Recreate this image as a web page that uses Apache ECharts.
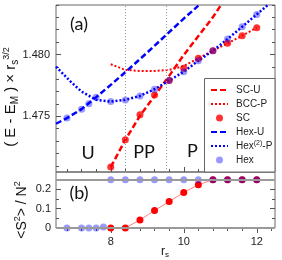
<!DOCTYPE html>
<html><head><meta charset="utf-8">
<script src="https://cdn.jsdelivr.net/npm/echarts@6/dist/echarts.min.js"></script>
<style>html,body{margin:0;padding:0;background:#fff}#c{width:282px;height:260px}</style>
</head><body><div id="c"></div>
<script>
// ---- data ----
const rSC   = [8.0, 8.4, 8.8, 9.2, 9.6, 10.0, 10.4, 10.8, 11.2, 11.6, 12.0];
const eSC   = [1.47090, 1.47310, 1.47512, 1.47673, 1.47790, 1.47889, 1.47969, 1.48031, 1.48090, 1.48152, 1.48216];
const rHex  = [6.8, 7.2, 7.4, 7.6, 8.0, 8.4, 8.8, 9.2, 9.6, 10.0, 10.4, 10.8, 11.2, 11.6, 12.0];
const eHex  = [1.47486, 1.47558, 1.47601, 1.47655, 1.47619, 1.47633, 1.47665, 1.47719, 1.47789, 1.47861, 1.47950, 1.48031, 1.48125, 1.48224, 1.48324];
const rSCU  = [8.0, 8.4, 8.8, 9.2, 9.6, 10.0, 10.4, 10.8, 11.0];
const eSCU  = [1.47090, 1.47310, 1.47504, 1.47665, 1.47827, 1.47996, 1.48149, 1.48302, 1.48391];
const rBCCP = [8.0, 8.4, 8.8, 9.2, 9.6, 10.0, 10.4, 10.8, 11.2, 11.6, 12.0];
const eBCCP = [1.47921, 1.47875, 1.47867, 1.47867, 1.47875, 1.47907, 1.47969, 1.48031, 1.48090, 1.48152, 1.48216];
const rHexU = [6.5, 6.8, 7.2, 7.6, 8.0, 8.5, 9.0, 9.5, 10.0, 10.4];
const eHexU = [1.47440, 1.47486, 1.47558, 1.47655, 1.47754, 1.47883, 1.48016, 1.48153, 1.48290, 1.48395];
const rHexP = [6.5, 6.9, 7.2, 7.6, 8.0, 8.4, 8.8, 9.2, 9.6, 10.0, 10.4, 10.8, 11.2, 11.6, 12.0, 12.3];
const eHexP = [1.47902, 1.47781, 1.47700, 1.47633, 1.47619, 1.47633, 1.47665, 1.47719, 1.47789, 1.47861, 1.47950, 1.48031, 1.48125, 1.48224, 1.48324, 1.48399];
// bottom panel <S^2>/N^2
const rSCs  = [8.0, 8.4, 8.8, 9.2, 9.6, 10.0, 10.4, 10.8, 11.2, 11.6, 12.0];
const sSC   = [0, 0, 0.042, 0.090, 0.137, 0.184, 0.224, 0.25, 0.25, 0.25, 0.25];
const rHexs = [6.8, 7.2, 7.4, 7.6, 7.8, 8.0, 8.4, 8.8, 9.2, 9.6, 10.0, 10.4, 10.8, 11.2, 11.6, 12.0];
const sHex  = [0, 0, 0, 0, 0.005, 0.25, 0.25, 0.25, 0.25, 0.25, 0.25, 0.25, 0.25, 0.25, 0.25, 0.25];
const phaseBounds = [8.4, 9.53];
const refLinesS = [0, 0.25];
const xLabels = [8, 10, 12];
const yLabelsE = [1.475, 1.480];
const yLabelsS = [0, 0.1, 0.2];
const legendNames = ['SC-U', 'BCC-P', 'SC', 'Hex-U', 'Hex(2)-P', 'Hex'];
const lineLegend = ['SC-U', 'BCC-P', 'Hex-U', 'Hex(2)-P'];

const zip = (a, b) => a.map((v, i) => [v, b[i]]);
function range(a, b, s) { const o = []; for (let k = 0; a + k * s <= b + 1e-9; k++) o.push(+(a + k * s).toFixed(5)); return o; }

const xTicks = range(6.8, 12.4, 0.4);
const yTicksE = range(1.471, 1.484, 0.001);
const yTicksS = range(0, 0.25, 0.05);

const FONT = 'Liberation Sans';
function ax(grid, pos, min, max, ticks, len, inside, labels, fmt, margin) {
  return {
    type: 'value', gridIndex: grid, position: pos, min: min, max: max,
    axisLine: { show: false, onZero: false }, splitLine: { show: false },
    axisTick: { show: true, inside: inside, length: len, customValues: ticks, lineStyle: { color: '#555', width: 1 } },
    axisLabel: labels ? { show: true, customValues: labels, formatter: fmt, margin: margin, fontSize: 11, color: '#222', fontFamily: FONT } : { show: false }
  };
}
const XMIN = 6.5, XMAX = 12.5, EMIN = 1.4705, EMAX = 1.484, SMIN = 0, SMAX = 0.29;

const chart = echarts.init(document.getElementById('c'), null, { renderer: 'canvas' });
const blueT = 'rgba(0,0,255,0.5)';
chart.setOption({
  animation: false,
  textStyle: { fontFamily: FONT },
  grid: [
    { left: 56, right: 7, top: 5, height: 167, show: true, borderColor: '#666', borderWidth: 1, backgroundColor: 'transparent' },
    { left: 56, right: 7, top: 172, height: 56, show: true, borderColor: '#666', borderWidth: 1, backgroundColor: 'transparent' }
  ],
  xAxis: [
    ax(0, 'bottom', XMIN, XMAX, xLabels, 5, true),
    ax(0, 'bottom', XMIN, XMAX, xTicks, 3, true),
    ax(1, 'bottom', XMIN, XMAX, xLabels, 5, false, xLabels, v => String(v), 8),
    ax(1, 'bottom', XMIN, XMAX, xTicks, 3, false)
  ],
  yAxis: [
    ax(0, 'left', EMIN, EMAX, yLabelsE, 5, true, yLabelsE, v => v.toFixed(3), 6),
    ax(0, 'left', EMIN, EMAX, yTicksE, 3, true),
    ax(0, 'right', EMIN, EMAX, yLabelsE, 5, true),
    ax(0, 'right', EMIN, EMAX, yTicksE, 3, true),
    ax(1, 'left', SMIN, SMAX, yLabelsS, 5, true, yLabelsS, v => (v === 0 ? '0' : String(v)), 5),
    ax(1, 'left', SMIN, SMAX, yTicksS, 3, true),
    ax(1, 'right', SMIN, SMAX, yLabelsS, 5, true),
    ax(1, 'right', SMIN, SMAX, yTicksS, 3, true)
  ],
  legend: {
    orient: 'vertical', left: 204, top: 78, padding: [6, 4, 6, 6],
    itemWidth: 17, itemHeight: 7, itemGap: 2, selectedMode: false, z: 6,
    data: legendNames.map(n => lineLegend.includes(n)
      ? { name: n, itemStyle: { opacity: 0, color: 'rgba(0,0,0,0)', borderWidth: 0 } }
      : { name: n }),
    formatter: n => (n === 'Hex(2)-P' ? 'Hex{sup|(2)}-P' : n),
    textStyle: { fontSize: 10, color: '#222', fontFamily: FONT, lineHeight: 12, padding: [0, 0, 0, 3],
      rich: { sup: { fontSize: 7, lineHeight: 12, verticalAlign: 'top', fontFamily: FONT, color: '#222' } } }
  },
  graphic: [
    { type: 'rect', z: 5, shape: { x: 204.5, y: 78.5, width: 70.5, height: 93.5 }, style: { fill: '#fff', stroke: '#666', lineWidth: 1 } },
    { type: 'text', z: 5, x: 79, y: 24, style: { text: '(a)', font: '18px Lato', fill: '#111', align: 'center', verticalAlign: 'middle' } },
    { type: 'text', z: 5, x: 79, y: 193, style: { text: '(b)', font: '18px Lato', fill: '#111', align: 'center', verticalAlign: 'middle' } },
    { type: 'text', z: 5, x: 88, y: 153, style: { text: 'U', font: '18px Lato', fill: '#111', align: 'center', verticalAlign: 'middle' } },
    { type: 'text', z: 5, x: 144, y: 152, style: { text: 'PP', font: '18px Lato', fill: '#111', align: 'center', verticalAlign: 'middle' } },
    { type: 'text', z: 5, x: 192.5, y: 151, style: { text: 'P', font: '18px Lato', fill: '#111', align: 'center', verticalAlign: 'middle' } },
    { type: 'text', z: 5, x: 11, y: 97, rotation: Math.PI / 2,
      style: { text: '( E - E{sub|M} ) × r{sub|s}{sup|3/2}', font: '15px Liberation Sans', fill: '#111', align: 'center', verticalAlign: 'middle', lineHeight: 18,
        rich: { sub: { fontSize: 10, lineHeight: 10, verticalAlign: 'bottom', fontFamily: FONT }, sup: { fontSize: 9, lineHeight: 9, verticalAlign: 'top', fontFamily: FONT } } } },
    { type: 'text', z: 5, x: 22, y: 210, rotation: Math.PI / 2,
      style: { text: '<S{sup|2}> / N{sup|2}', font: '14px Liberation Sans', fill: '#111', align: 'center', verticalAlign: 'middle', lineHeight: 17,
        rich: { sup: { fontSize: 9, lineHeight: 9, verticalAlign: 'top', fontFamily: FONT } } } },
    { type: 'text', z: 5, x: 165, y: 252, style: { text: 'r{sub|s}', font: '12px Liberation Sans', fill: '#111', align: 'center', verticalAlign: 'middle', lineHeight: 14,
        rich: { sub: { fontSize: 8, lineHeight: 8, verticalAlign: 'bottom', fontFamily: FONT } } } }
  ],
  series: [
    { name: 'SC-U', type: 'line', xAxisIndex: 0, yAxisIndex: 0, data: zip(rSCU, eSCU), symbol: 'none', z: 2,
      lineStyle: { color: '#ff0000', width: 2.5, type: [6, 3] }, itemStyle: { color: '#ff0000' },
      markLine: { silent: true, symbol: 'none', label: { show: false }, animation: false,
        lineStyle: { color: '#999', width: 1, type: [1, 2] }, data: phaseBounds.map(v => ({ xAxis: v })) } },
    { name: 'BCC-P', type: 'line', xAxisIndex: 0, yAxisIndex: 0, data: zip(rBCCP, eBCCP), symbol: 'none', z: 2,
      lineStyle: { color: '#ff0000', width: 2, type: [2, 2] }, itemStyle: { color: '#ff0000' } },
    { name: 'Hex-U', type: 'line', xAxisIndex: 0, yAxisIndex: 0, data: zip(rHexU, eHexU), symbol: 'none', z: 2,
      lineStyle: { color: '#0000ff', width: 2.5, type: [6, 3] }, itemStyle: { color: '#0000ff' } },
    { name: 'Hex(2)-P', type: 'line', xAxisIndex: 0, yAxisIndex: 0, data: zip(rHexP, eHexP), symbol: 'none', z: 2,
      lineStyle: { color: '#0000ff', width: 2.5, type: [2, 2] }, itemStyle: { color: '#0000ff' } },
    { name: 'SC', type: 'scatter', xAxisIndex: 0, yAxisIndex: 0, data: zip(rSC, eSC), symbolSize: 7, z: 3,
      itemStyle: { color: '#ff0000' } },
    { name: 'Hex', type: 'scatter', xAxisIndex: 0, yAxisIndex: 0, data: zip(rHex, eHex), symbolSize: 7, z: 4,
      itemStyle: { color: blueT } },
    { name: 'ref', type: 'line', xAxisIndex: 2, yAxisIndex: 4, data: [], z: 1,
      markLine: { silent: true, symbol: 'none', label: { show: false }, animation: false,
        lineStyle: { color: '#9a9a9a', width: 2, type: 'solid' }, data: refLinesS.map(v => ({ yAxis: v })) } },
    { name: 'SC', type: 'line', xAxisIndex: 2, yAxisIndex: 4, data: zip(rSCs, sSC), symbol: 'circle', symbolSize: 7, z: 3,
      lineStyle: { color: '#ff8080', width: 1 }, itemStyle: { color: '#ff0000' } },
    { name: 'Hex', type: 'scatter', xAxisIndex: 2, yAxisIndex: 4, data: zip(rHexs, sHex), symbolSize: 7, z: 4,
      itemStyle: { color: blueT } }
  ]
});
</script></body></html>
